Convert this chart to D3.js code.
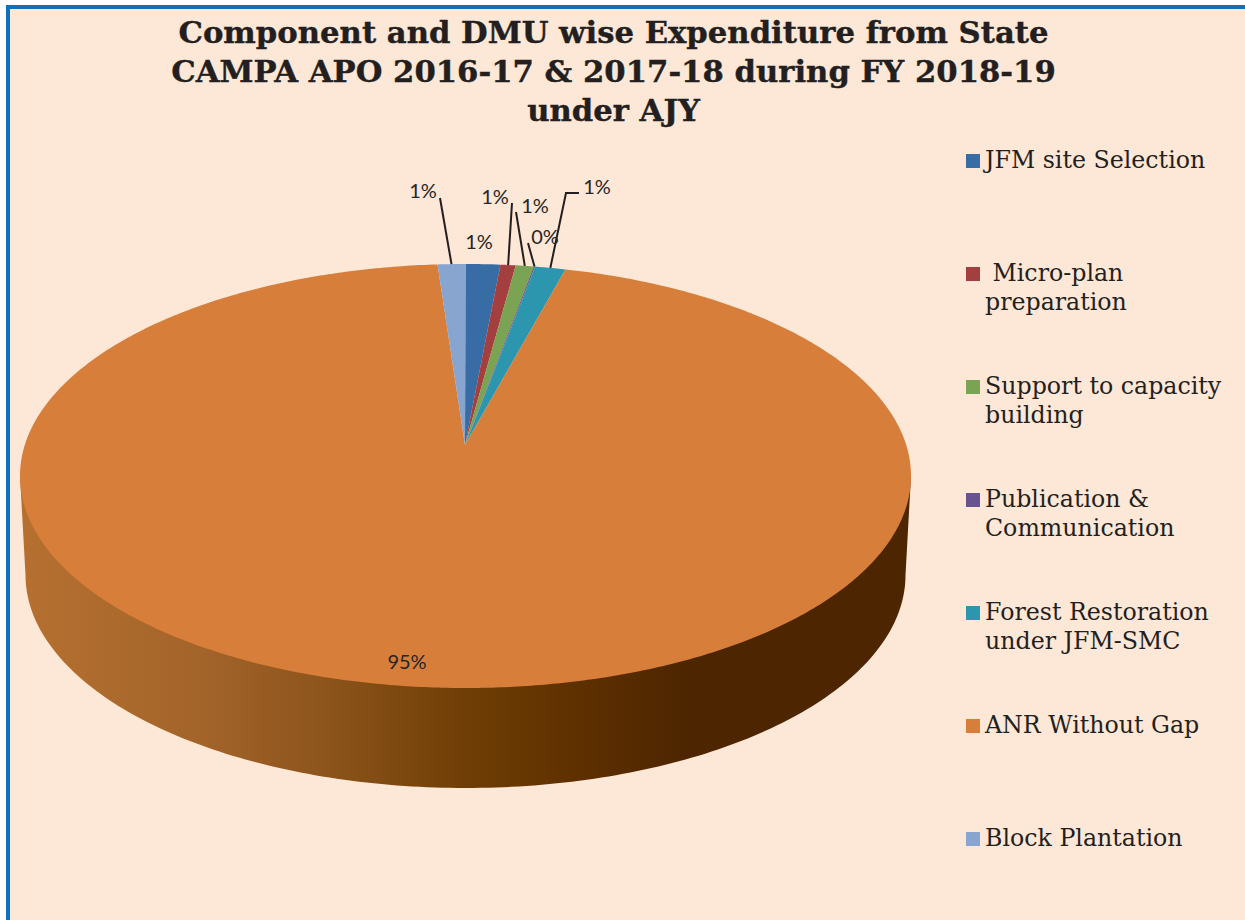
<!DOCTYPE html>
<html>
<head>
<meta charset="utf-8">
<title>Component and DMU wise Expenditure</title>
<script src="https://cdn.jsdelivr.net/npm/d3@7"></script>
<style>
  html, body { margin: 0; padding: 0; background: #fff; }
  svg { display: block; }
  text { white-space: pre; }
</style>
</head>
<body>
<svg id="chart" width="1245" height="920"></svg>
<script>
// Chart content
const titleLines = [
  "Component and DMU wise Expenditure from State",
  "CAMPA APO 2016-17 & 2017-18 during FY 2018-19",
  "under AJY"
];
const categories = [
  "JFM site Selection",
  " Micro-plan|preparation",
  "Support to capacity|building",
  "Publication &|Communication",
  "Forest Restoration|under JFM-SMC",
  "ANR Without Gap",
  "Block Plantation"
];
const sharePercent = [1.25, 0.55, 0.65, 0.05, 1.1, 95.4, 1.0];
const sliceColors = ["#376ca5", "#a33f3f", "#7ba354", "#67538f", "#2d96af", "#d67e3a", "#87a5cf"];

// Shaded wall of the disc, left to right
const wallOffsets = [0, 0.2, 0.35, 0.5, 0.61, 0.75, 1];
const wallColors = ["#b57030", "#a3642a", "#8b531a", "#6f3e06", "#613200", "#4d2500", "#4d2500"];

// Where each percentage sits; slices with `elbow` get a leader line back to the rim
const labelLayout = [
  { x: 479, y: 242 },
  { x: 495, y: 197, elbow: [[512, 203]] },
  { x: 535, y: 206, elbow: [[516, 212]] },
  { x: 545, y: 237, elbow: [[528, 243]] },
  { x: 597, y: 187, elbow: [[579, 193], [566, 193]] },
  { x: 407, y: 662 },
  { x: 423, y: 191, elbow: [[440, 198]] }
];

const svg = d3.select("#chart");
const W = 1245, H = 920;

// Panel with blue top and left rules
svg.append("rect").attr("width", W).attr("height", H).attr("fill", "#fff");
svg.append("rect").attr("x", 6).attr("y", 5).attr("width", W - 6).attr("height", H - 5).attr("fill", "#0f70bd");
svg.append("rect").attr("x", 10).attr("y", 9).attr("width", W - 10).attr("height", H - 9).attr("fill", "#fde7d6");

// Title
svg.append("g").selectAll("text").data(titleLines).join("text")
  .attr("x", 613.5)
  .attr("y", (d, i) => 43 + i * 39)
  .attr("text-anchor", "middle")
  .attr("font-family", "'DejaVu Serif', serif")
  .attr("font-weight", 700)
  .attr("font-size", 30.7)
  .attr("fill", "#231f20")
  .attr("stroke", "#231f20")
  .attr("stroke-width", 0.4)
  .text(d => d);

// Disc geometry: the top face is seen in perspective, so the slices meet above the ellipse centre
const topFace = { cx: 465.5, cy: 476, rx: 445.5, ry: 212 };
const baseFace = { cx: 465.5, cy: 575, rx: 440, ry: 213 };
const apex = [465, 445];
const onRim = (e, a) => [e.cx + e.rx * Math.sin(a), e.cy - e.ry * Math.cos(a)];
const line = d3.line();

const total = d3.sum(sharePercent);
const pie = d3.pie().sort(null).value(d => d).startAngle(0).endAngle(2 * Math.PI);
const arcs = pie(sharePercent);
const pct = d3.format(".0f");

// Wall gradient
const grad = svg.append("defs").append("linearGradient")
  .attr("id", "wall").attr("gradientUnits", "userSpaceOnUse")
  .attr("x1", 25).attr("x2", 906).attr("y1", 0).attr("y2", 0);
grad.selectAll("stop").data(wallOffsets).join("stop")
  .attr("offset", d => d)
  .attr("stop-color", (d, i) => wallColors[i]);

// Wall: bottom half of the lower ellipse, closed along the top ellipse's widest points
const wallAngles = d3.range(Math.PI / 2, 3 * Math.PI / 2 + 0.001, Math.PI / 180);
svg.append("path")
  .attr("d", line([onRim(topFace, Math.PI / 2), ...wallAngles.map(a => onRim(baseFace, a)), onRim(topFace, 3 * Math.PI / 2)]) + "Z")
  .attr("fill", "url(#wall)");

// Top face slices
svg.append("g").selectAll("path").data(arcs).join("path")
  .attr("d", d => {
    const n = Math.max(2, Math.ceil((d.endAngle - d.startAngle) / 0.01));
    const rim = d3.range(n + 1).map(i => onRim(topFace, d.startAngle + (d.endAngle - d.startAngle) * i / n));
    return line([apex, ...rim]) + "Z";
  })
  .attr("fill", (d, i) => sliceColors[i]);

// Leader lines
svg.append("g").selectAll("path").data(arcs.filter((d, i) => labelLayout[i].elbow)).join("path")
  .attr("d", d => {
    const mid = (d.startAngle + d.endAngle) / 2;
    return line([...labelLayout[d.index].elbow, onRim(topFace, mid)]);
  })
  .attr("fill", "none")
  .attr("stroke", "#231f20")
  .attr("stroke-width", 2);

// Percentage labels
svg.append("g").selectAll("text").data(arcs).join("text")
  .attr("x", d => labelLayout[d.index].x)
  .attr("y", d => labelLayout[d.index].y)
  .attr("dy", "0.35em")
  .attr("text-anchor", "middle")
  .attr("font-family", "Lato, sans-serif")
  .attr("font-size", 20)
  .attr("fill", "#262626")
  .text(d => pct(d.data / total * 100) + "%");

// Legend
const legendY = d3.scalePoint().domain(categories).range([154, 832]);
const legend = svg.append("g").selectAll("g").data(categories).join("g");
legend.append("rect")
  .attr("x", 966).attr("y", d => legendY(d))
  .attr("width", 14).attr("height", 14)
  .attr("fill", (d, i) => sliceColors[i]);
legend.selectAll("text").data(d => d.split("|").map(t => ({ t, y: legendY(d) }))).join("text")
  .attr("x", 985)
  .attr("y", (d, i) => d.y + 14 + i * 29)
  .attr("font-family", "'DejaVu Serif', serif")
  .attr("font-size", 23.7)
  .attr("fill", "#231f20")
  .text(d => d.t);
</script>
</body>
</html>
